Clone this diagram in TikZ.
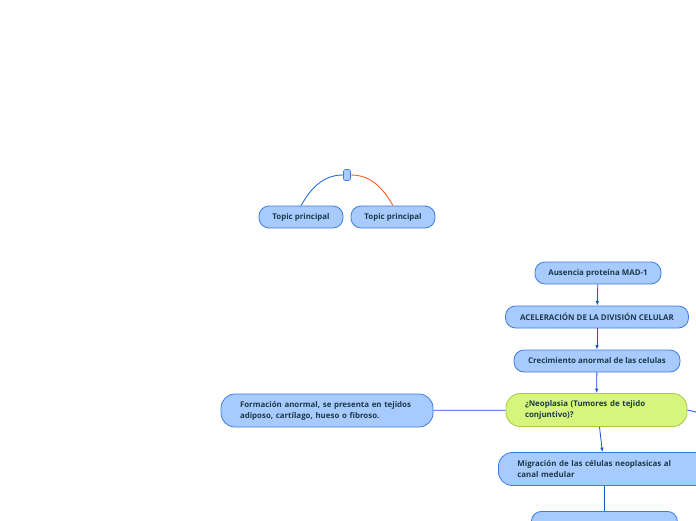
\documentclass[tikz,border=0pt]{standalone}
\usepackage{fontspec}
\setmainfont{Open Sans}
\usetikzlibrary{arrows.meta}
\definecolor{topicfill}{HTML}{A8CBFF}
\definecolor{topicdraw}{HTML}{3B7BE6}
\definecolor{askfill}{HTML}{D5F57C}
\definecolor{askdraw}{HTML}{A9C945}
\definecolor{linkblue}{HTML}{1E4FDB}
\definecolor{curveblue}{HTML}{2670DD}
\definecolor{curveorange}{HTML}{F2612E}
\definecolor{inktext}{HTML}{1C3A48}
\begin{document}
\begin{tikzpicture}[
    x=1pt, y=-1pt,
    >={Latex[length=4.5pt,width=3.5pt]},
    font=\fontsize{7.9}{11}\selectfont\bfseries,
    topic/.style={
        draw=topicdraw,
        fill=topicfill,
        text=inktext,
        rectangle,
        rounded corners=10pt,
        minimum height=22pt,
        inner ysep=2pt,
        align=center,
        line width=0.8pt
    },
    longtopic/.style={
        topic,
        rounded corners=14pt,
        minimum height=33pt,
        inner xsep=19pt,
        align=left
    },
    question/.style={
        longtopic,
        draw=askdraw,
        fill=askfill
    },
    hub/.style={
        draw=topicdraw,
        fill=topicfill,
        rectangle,
        rounded corners=2pt,
        minimum width=7pt,
        minimum height=11pt,
        inner sep=0pt,
        line width=0.6pt
    },
    link/.style={linkblue, line width=0.8pt}
]
\clip (0,0) rectangle (696,520);

% main topics
\node[hub] (centre) at (347,175) {};
\node[topic, minimum width=84pt] (topicA) at (301,217) {Topic principal};
\node[topic, minimum width=84pt] (topicB) at (393,217) {Topic principal};
\draw[curveblue, line width=0.9pt] (centre.west) to[out=180, in=60] (topicA.north);
\draw[curveorange, line width=0.9pt] (centre.east) to[out=0, in=120] (topicB.north);

% chain
\node[topic, minimum width=126pt] (mad) at (598,273) {Ausencia proteína MAD-1};
\node[topic, minimum width=183pt] (accel) at (597,317) {ACELERACIÓN DE LA DIVISIÓN CELULAR};
\node[topic, minimum width=166pt] (growth) at (597,361) {Crecimiento anormal de las celulas};
\node[question, text width=143pt] (neo) at (596.5,410) {¿Neoplasia (Tumores de tejido\\conjuntivo)?};
\node[longtopic, text width=174pt] (form) at (327,410.5) {Formación anormal, se presenta en tejidos\\adiposo, cartílago, hueso o fibroso.};
\node[longtopic, text width=174pt, anchor=west] (migr) at (498,469) {Migración de las células neoplasicas al\\canal medular};
\node[topic, minimum width=146pt, minimum height=34pt, anchor=north west] (next) at (531,511) {};
\coordinate (offright) at (730,420);

\draw[->, link] (mad) -- (accel);
\draw[->, link] (accel) -- (growth);
\draw[->, link] (growth) -- (neo);
\draw[link] (form) -- (neo);
\draw[link] (neo.east) -- (offright);
\draw[->, link] (neo.south) ++(3,0) -- ([xshift=-2pt]migr.north);
\draw[link] (migr.south) -- (next.north -| migr.south);
\end{tikzpicture}
\end{document}
